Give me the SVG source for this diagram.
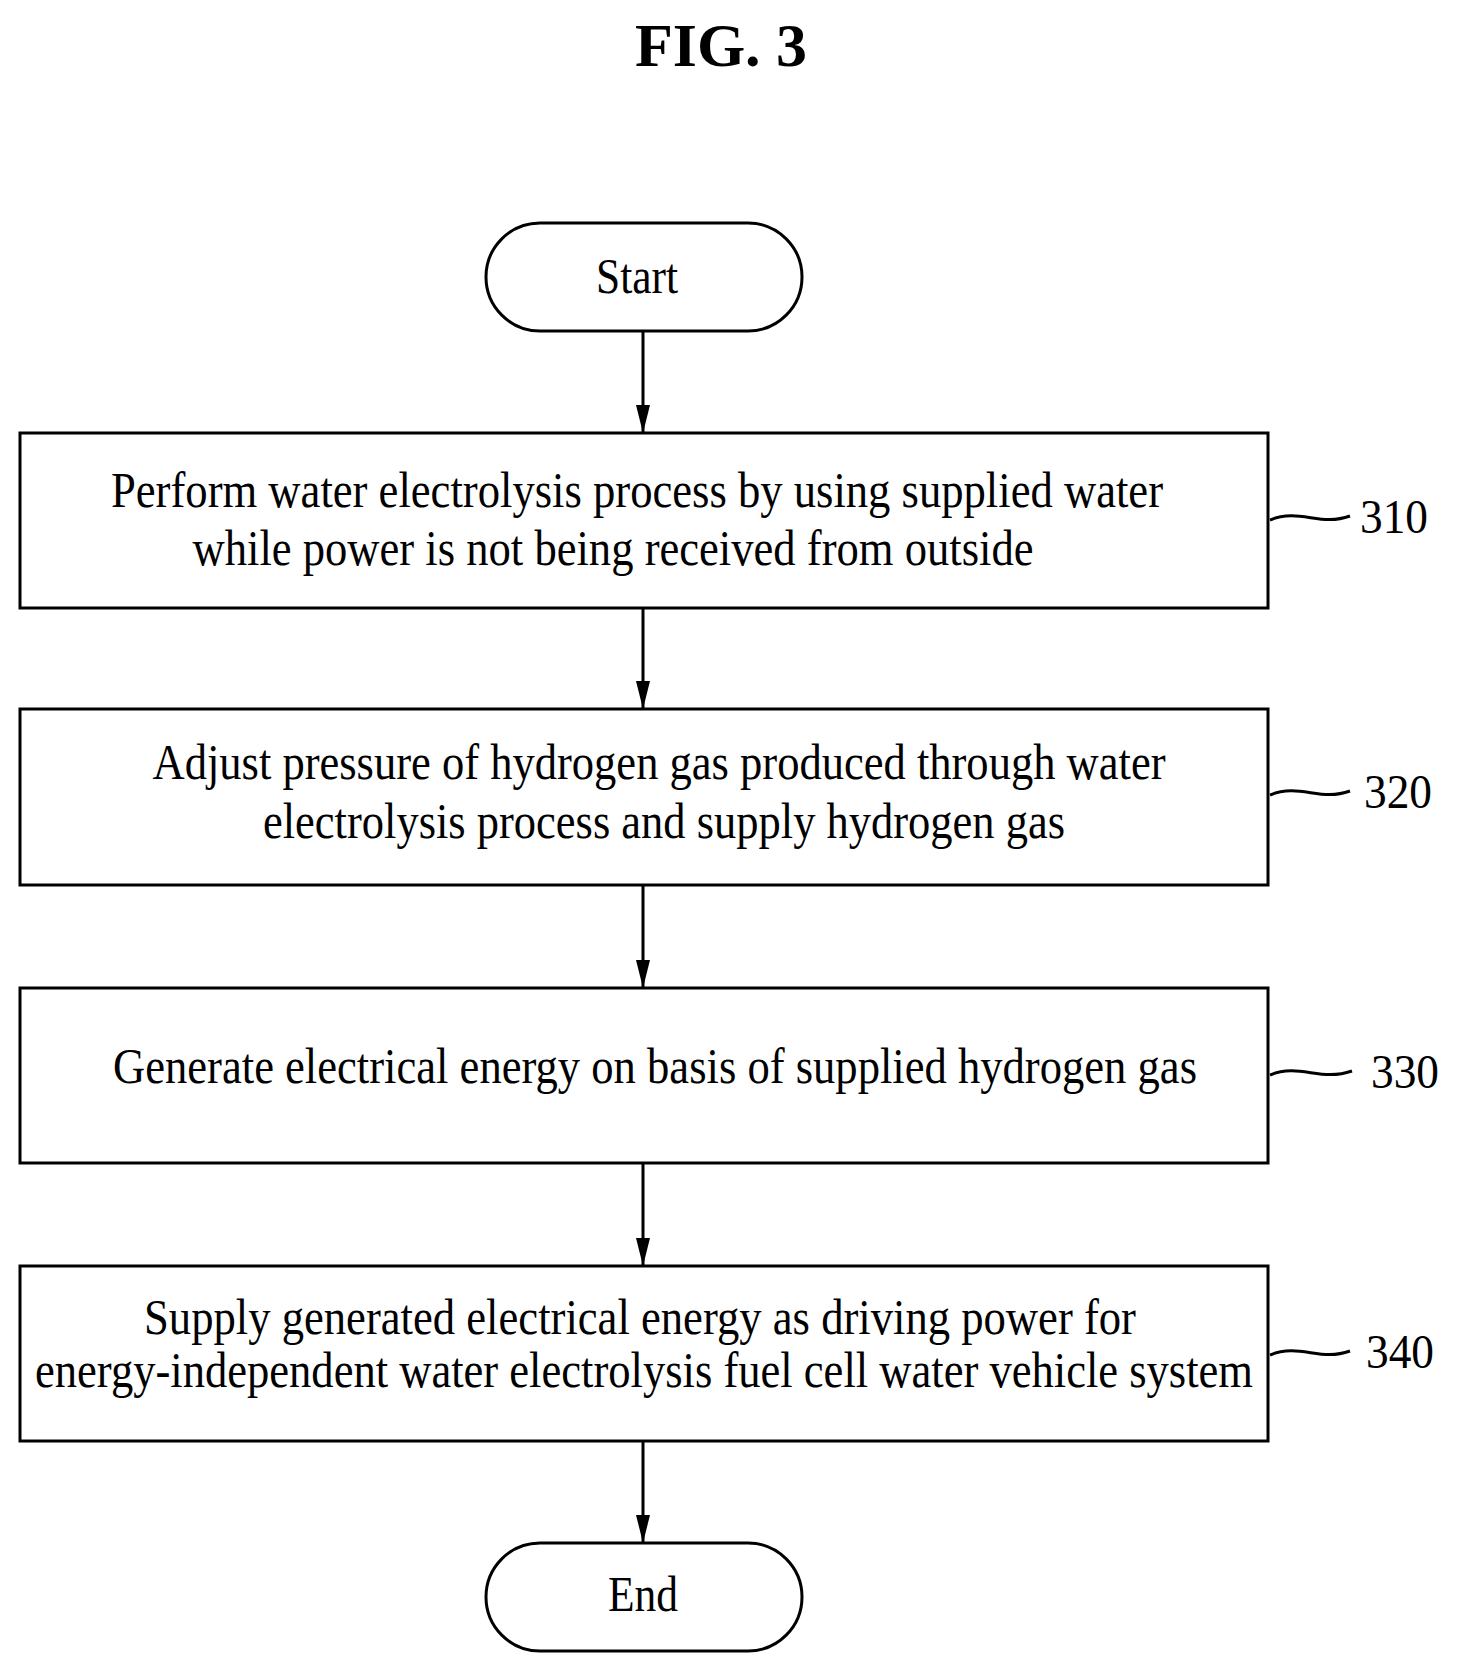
<svg xmlns="http://www.w3.org/2000/svg" width="1457" height="1674" viewBox="0 0 1457 1674">
<style>
.b{fill:#fff;stroke:#000;stroke-width:3}
.t{font-family:"Liberation Serif",serif;font-size:50px;text-anchor:middle;fill:#000}
.l{font-family:"Liberation Serif",serif;font-size:48px;fill:#000}
.c{stroke:#000;stroke-width:3;fill:none}
</style>
<defs><marker id="ar" markerWidth="28" markerHeight="14" refX="28" refY="7" orient="auto" markerUnits="userSpaceOnUse" viewBox="0 0 28 14"><path d="M0,0 L28,7 L0,14 z"/></marker></defs>
<text x="721" y="66" style="font-family:'Liberation Serif',serif;font-size:62px;font-weight:bold;text-anchor:middle">FIG. 3</text>
<g id="start"><rect class="b" x="486" y="223" width="316" height="108" rx="54"/><text class="t" x="637" y="293" textLength="82" lengthAdjust="spacingAndGlyphs">Start</text></g>
<g id="n310"><rect class="b" x="20" y="433" width="1248" height="175"/>
<text class="t" x="637" y="507" textLength="1052" lengthAdjust="spacingAndGlyphs">Perform water electrolysis process by using supplied water</text>
<text class="t" x="613" y="565" textLength="841" lengthAdjust="spacingAndGlyphs">while power is not being received from outside</text>
<path class="c" d="M1270,520 C1300,508 1320,527 1350,516"/><text class="l" x="1360" y="533" textLength="68" lengthAdjust="spacingAndGlyphs">310</text></g>
<g id="n320"><rect class="b" x="20" y="709" width="1248" height="176"/>
<text class="t" x="659" y="779" textLength="1013" lengthAdjust="spacingAndGlyphs">Adjust pressure of hydrogen gas produced through water</text>
<text class="t" x="664" y="838" textLength="802" lengthAdjust="spacingAndGlyphs">electrolysis process and supply hydrogen gas</text>
<path class="c" d="M1270,795 C1300,783 1320,802 1350,791"/><text class="l" x="1364" y="808" textLength="68" lengthAdjust="spacingAndGlyphs">320</text></g>
<g id="n330"><rect class="b" x="20" y="988" width="1248" height="175"/>
<text class="t" x="655" y="1083" textLength="1084" lengthAdjust="spacingAndGlyphs">Generate electrical energy on basis of supplied hydrogen gas</text>
<path class="c" d="M1270,1075 C1300,1063 1320,1082 1352,1071"/><text class="l" x="1371" y="1088" textLength="68" lengthAdjust="spacingAndGlyphs">330</text></g>
<g id="n340"><rect class="b" x="20" y="1266" width="1248" height="175"/>
<text class="t" x="640" y="1334" textLength="992" lengthAdjust="spacingAndGlyphs">Supply generated electrical energy as driving power for</text>
<text class="t" x="644" y="1387" textLength="1218" lengthAdjust="spacingAndGlyphs">energy-independent water electrolysis fuel cell water vehicle system</text>
<path class="c" d="M1270,1355 C1300,1343 1320,1362 1350,1351"/><text class="l" x="1366" y="1368" textLength="68" lengthAdjust="spacingAndGlyphs">340</text></g>
<g id="end"><rect class="b" x="486" y="1543" width="316" height="108" rx="54"/><text class="t" x="643" y="1611" textLength="70" lengthAdjust="spacingAndGlyphs">End</text></g>
<g id="connectors">
<line class="c" x1="643" y1="331" x2="643" y2="433" marker-end="url(#ar)"/>
<line class="c" x1="643" y1="608" x2="643" y2="709" marker-end="url(#ar)"/>
<line class="c" x1="643" y1="885" x2="643" y2="988" marker-end="url(#ar)"/>
<line class="c" x1="643" y1="1163" x2="643" y2="1266" marker-end="url(#ar)"/>
<line class="c" x1="643" y1="1441" x2="643" y2="1543" marker-end="url(#ar)"/>
</g>
</svg>
